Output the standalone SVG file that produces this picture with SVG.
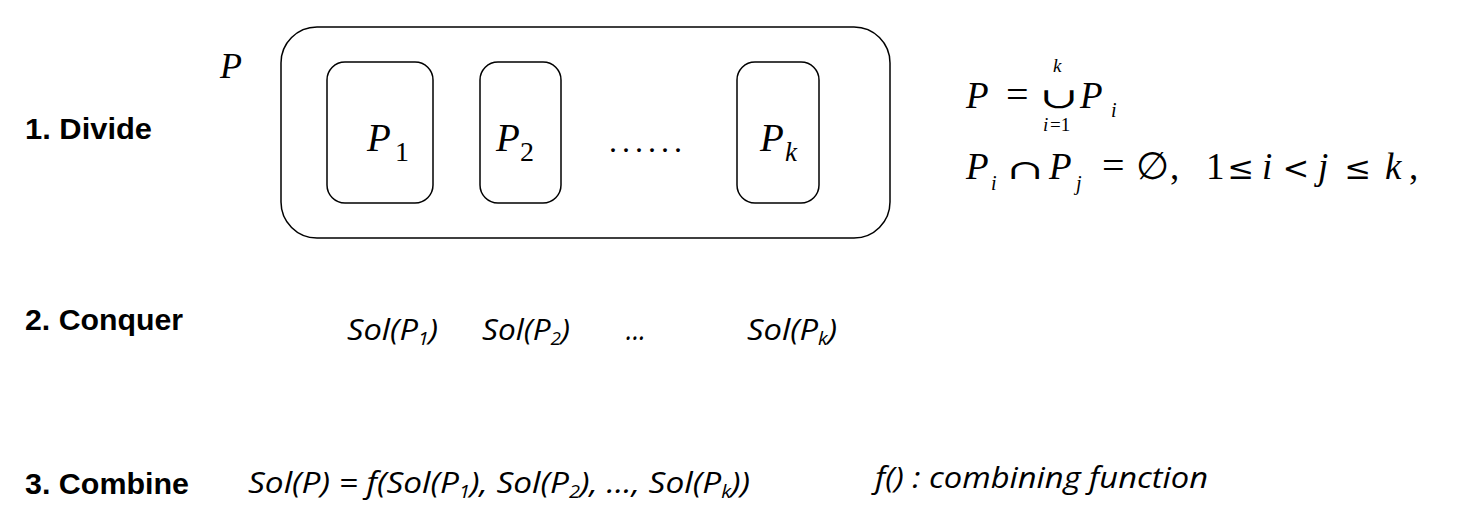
<svg xmlns="http://www.w3.org/2000/svg" width="1457" height="528" viewBox="0 0 1457 528">
<style>
.box{fill:#fff;stroke:#000;stroke-width:1.5}
.lbl{font-family:"Liberation Sans",Arial,sans-serif;font-weight:bold;font-size:29px;fill:#000}
.m{font-family:"Liberation Serif","Times New Roman",serif;font-style:italic;fill:#000}
.mr{font-family:"Liberation Serif","Times New Roman",serif;fill:#000}
.sy{font-family:"DejaVu Serif",serif;fill:#000}
.s{font-family:"Open Sans","Liberation Sans",sans-serif;font-style:italic;font-size:30px;fill:#000}
.sub{font-size:18px}
</style>
<rect width="1457" height="528" fill="#fff"/>
<g id="labels">
<text class="lbl" x="25" y="139" textLength="127" lengthAdjust="spacingAndGlyphs">1. Divide</text>
<text class="lbl" x="25" y="330" textLength="158" lengthAdjust="spacingAndGlyphs">2. Conquer</text>
<text class="lbl" x="25" y="494" textLength="164" lengthAdjust="spacingAndGlyphs">3. Combine</text>
</g>
<g id="P">
<text class="m" x="220" y="78" font-size="36">P</text>
<rect class="box" x="281" y="27" width="609" height="211" rx="36"/>
</g>
<g id="P1">
<rect class="box" x="327" y="62" width="106" height="141" rx="18"/>
<text class="m" x="367" y="151" font-size="39">P</text><text class="mr" x="395" y="161" font-size="28">1</text>
</g>
<g id="P2">
<rect class="box" x="480" y="62" width="81" height="141" rx="18"/>
<text class="m" x="496" y="151" font-size="39">P</text><text class="mr" x="520" y="161" font-size="28">2</text>
</g>
<text class="mr" x="609" y="152" font-size="32" letter-spacing="5">......</text>
<g id="Pk">
<rect class="box" x="737" y="62" width="82" height="141" rx="18"/>
<text class="m" x="760" y="151" font-size="39">P</text><text class="m" x="785" y="161" font-size="27">k</text>
</g>
<g id="formula">
<text class="m" x="966" y="108" font-size="37">P</text>
<text class="mr" x="1006" y="108" font-size="40">=</text>
<text class="sy" font-size="29" text-anchor="middle" transform="translate(1059,108) scale(1.6,1)">∪</text>
<text class="m" x="1053" y="72" font-size="19">k</text>
<text class="m" x="1043" y="131" font-size="19">i</text><text class="mr" x="1050" y="131" font-size="19">=1</text>
<text class="m" x="1080" y="108" font-size="37">P</text>
<text class="m" x="1111" y="117" font-size="20">i</text>
<text class="m" x="966" y="179" font-size="37">P</text>
<text class="m" x="991" y="190" font-size="20">i</text>
<text class="sy" font-size="27" text-anchor="middle" transform="translate(1025,179) scale(1.6,1)">∩</text>
<text class="m" x="1049" y="179" font-size="37">P</text>
<text class="m" x="1076" y="190" font-size="20">j</text>
<text class="mr" x="1102" y="179" font-size="40">=</text>
<text class="sy" x="1152" y="179" font-size="38" text-anchor="middle">∅</text>
<text class="mr" x="1170" y="179" font-size="37">,</text>
<text class="mr" x="1206" y="179" font-size="37">1</text>
<text class="sy" x="1241" y="179" font-size="32" text-anchor="middle">≤</text>
<text class="m" x="1262" y="179" font-size="37">i</text>
<text class="sy" x="1296" y="179" font-size="32" text-anchor="middle">&lt;</text>
<text class="m" x="1318" y="179" font-size="37">j</text>
<text class="sy" x="1358" y="179" font-size="32" text-anchor="middle">≤</text>
<text class="m" x="1385" y="179" font-size="37">k</text>
<text class="mr" x="1409" y="179" font-size="37">,</text>
</g>
<g id="conquer">
<text class="s" x="347" y="340" textLength="91" lengthAdjust="spacingAndGlyphs">Sol(P<tspan class="sub" dy="5">1</tspan><tspan dy="-5">)</tspan></text>
<text class="s" x="482" y="340" textLength="88" lengthAdjust="spacingAndGlyphs">Sol(P<tspan class="sub" dy="5">2</tspan><tspan dy="-5">)</tspan></text>
<text class="s" x="626" y="340" textLength="20" lengthAdjust="spacingAndGlyphs">...</text>
<text class="s" x="747" y="340" textLength="90" lengthAdjust="spacingAndGlyphs">Sol(P<tspan class="sub" dy="5">k</tspan><tspan dy="-5">)</tspan></text>
</g>
<g id="combine">
<text class="s" x="248" y="493" textLength="502" lengthAdjust="spacingAndGlyphs">Sol(P) = f(Sol(P<tspan class="sub" dy="5">1</tspan><tspan dy="-5">), Sol(P</tspan><tspan class="sub" dy="5">2</tspan><tspan dy="-5">), ..., Sol(P</tspan><tspan class="sub" dy="5">k</tspan><tspan dy="-5">))</tspan></text>
<text class="s" x="875" y="488" textLength="333" lengthAdjust="spacingAndGlyphs">f() : combining function</text>
</g>
</svg>
